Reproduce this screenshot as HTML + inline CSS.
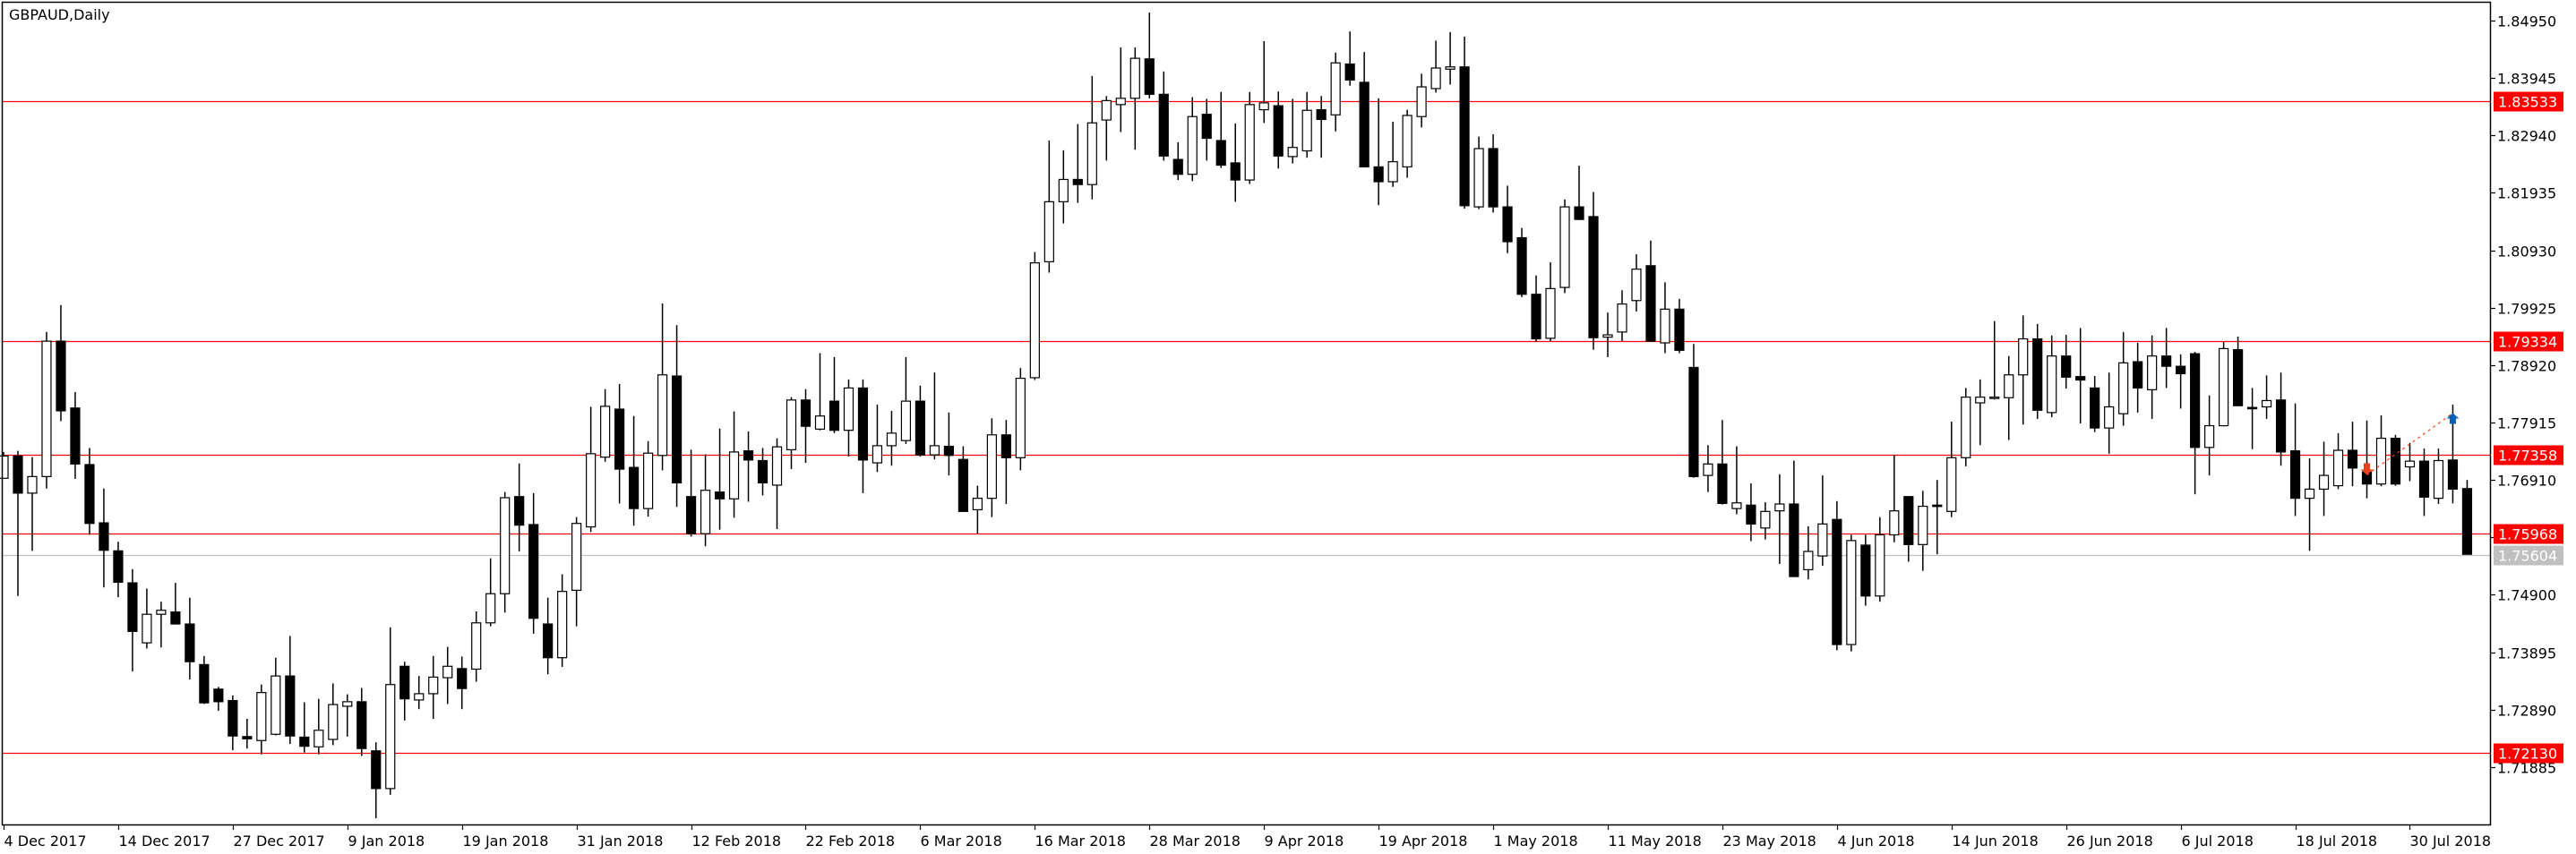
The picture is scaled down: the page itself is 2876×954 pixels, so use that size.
<!DOCTYPE html>
<html><head><meta charset="utf-8"><title>GBPAUD,Daily</title>
<style>
html,body{margin:0;padding:0;background:#fff;}
svg{display:block;font-family:"DejaVu Sans","Liberation Sans",sans-serif;}
</style></head>
<body>
<svg id="chart" width="2876" height="954" viewBox="0 0 2876 954">
  <rect x="0" y="0" width="2876" height="954" fill="#fff"/>
  <g id="hlines"></g>
  <g id="candles"></g>
  <g id="signals"></g>
  <rect x="2.5" y="2.5" width="2778" height="919" fill="none" stroke="#000" stroke-width="1.5"/>
  <g id="yaxis"></g>
  <g id="xaxis"></g>
  <g id="levelLabels"></g>
  <text x="10" y="22" font-size="16" fill="#000">GBPAUD,Daily</text>
</svg>
<script>
const open = [17694,17733,17668,17697,17934,17817,17718,17616,17567,17511,17406,17456,17460,17439,17368,17325,17305,17242,17235,17246,17348,17241,17224,17237,17295,17303,17217,17151,17365,17306,17317,17345,17361,17360,17441,17492,17662,17613,17439,17380,17498,17609,17731,17815,17713,17641,17734,17873,17662,17597,17670,17658,17742,17725,17682,17744,17831,17780,17829,17778,17852,17721,17751,17760,17829,17735,17750,17727,17639,17659,17770,17730,17870,18073,18178,18217,18208,18321,18348,18359,18428,18366,18252,18226,18331,18285,18246,18216,18339,18346,18257,18267,18339,18330,18419,18387,18239,18213,18239,18327,18376,18410,18414,18169,18271,18169,18115,18016,17939,18028,18169,18152,17941,17950,18005,18066,17931,17990,17888,17699,17719,17641,17647,17607,17637,17649,17534,17558,17622,17403,17577,17488,17595,17662,17578,17647,17636,17730,17826,17835,17835,17875,17938,17809,17908,17872,17852,17782,17807,17898,17849,17908,17890,17912,17748,17786,17919,17818,17819,17831,17742,17659,17675,17681,17743,17705,17684,17764,17714,17724,17659,17726,17676];
const high = [17740,17742,17731,17950,17997,17845,17747,17676,17583,17535,17501,17478,17511,17485,17383,17329,17314,17273,17333,17380,17418,17302,17308,17335,17316,17327,17232,17433,17373,17348,17383,17399,17382,17461,17554,17670,17720,17668,17485,17526,17626,17819,17850,17859,17803,17759,18000,17962,17744,17736,17781,17811,17776,17747,17764,17836,17850,17913,17906,17867,17867,17823,17812,17906,17856,17879,17809,17750,17681,17799,17796,17887,18090,18285,18268,18314,18398,18363,18448,18448,18509,18406,18282,18361,18358,18370,18315,18370,18459,18371,18358,18370,18363,18439,18476,18440,18359,18318,18339,18402,18460,18475,18467,18292,18296,18206,18132,18049,18072,18182,18241,18195,17984,18023,18086,18110,18037,18008,17929,17752,17796,17750,17685,17652,17701,17725,17610,17699,17654,17595,17595,17626,17735,17662,17672,17691,17793,17852,17867,17969,17908,17979,17964,17944,17945,17957,17873,17879,17950,17931,17944,17957,17911,17915,17839,17933,17942,17852,17874,17879,17825,17729,17758,17773,17793,17795,17804,17770,17756,17746,17746,17823,17691];
const low = [17694,17488,17567,17676,17794,17693,17595,17503,17486,17356,17396,17398,17439,17342,17299,17287,17218,17221,17211,17244,17229,17214,17211,17227,17242,17208,17099,17140,17270,17290,17273,17299,17290,17338,17435,17459,17566,17422,17351,17364,17435,17600,17723,17650,17611,17627,17708,17644,17592,17575,17604,17625,17653,17664,17605,17710,17721,17778,17773,17732,17668,17705,17716,17754,17732,17727,17699,17636,17597,17626,17649,17708,17866,18054,18140,18176,18182,18250,18300,18269,18359,18250,18216,18214,18250,18237,18178,18209,18316,18236,18245,18255,18255,18301,18381,18239,18172,18204,18220,18308,18369,18383,18166,18165,18159,18088,18011,17933,17934,18018,18146,17919,17906,17934,17986,17933,17913,17913,17695,17670,17648,17631,17584,17587,17544,17522,17517,17541,17393,17391,17471,17478,17582,17548,17532,17561,17626,17715,17752,17832,17761,17788,17798,17801,17851,17790,17775,17737,17786,17809,17798,17852,17816,17666,17699,17785,17821,17745,17798,17716,17628,17567,17628,17675,17680,17659,17680,17681,17689,17628,17649,17650,17561];
const close = [17733,17668,17697,17934,17812,17719,17615,17568,17512,17426,17456,17463,17439,17373,17301,17303,17243,17238,17319,17348,17243,17225,17253,17298,17303,17221,17151,17333,17308,17317,17346,17365,17326,17441,17492,17660,17612,17449,17380,17496,17615,17737,17820,17710,17641,17738,17875,17686,17597,17673,17658,17740,17726,17686,17749,17831,17785,17803,17778,17852,17726,17751,17773,17829,17735,17751,17734,17636,17659,17770,17730,17869,18071,18178,18217,18208,18316,18355,18359,18429,18366,18258,18226,18327,18289,18242,18216,18348,18351,18258,18273,18338,18322,18421,18391,18239,18213,18248,18329,18379,18412,18414,18171,18271,18169,18108,18016,17938,18026,18169,18147,17940,17945,17999,18060,17934,17990,17918,17697,17719,17650,17651,17614,17636,17649,17522,17566,17614,17403,17585,17488,17595,17637,17578,17645,17646,17730,17836,17836,17836,17875,17938,17813,17908,17871,17866,17782,17819,17896,17852,17908,17890,17877,17748,17786,17921,17821,17817,17830,17740,17659,17675,17699,17743,17712,17684,17764,17684,17724,17661,17725,17675,17561];
const PRICE_UNIT = 10000;
const dateLabels = ["4 Dec 2017","14 Dec 2017","27 Dec 2017","9 Jan 2018","19 Jan 2018","31 Jan 2018","12 Feb 2018","22 Feb 2018","6 Mar 2018","16 Mar 2018","28 Mar 2018","9 Apr 2018","19 Apr 2018","1 May 2018","11 May 2018","23 May 2018","4 Jun 2018","14 Jun 2018","26 Jun 2018","6 Jul 2018","18 Jul 2018","30 Jul 2018"];
const dateLabelIndex = [0,8,16,24,32,40,48,56,64,72,80,88,96,104,112,120,128,136,144,152,160,168];
const priceTicks = ["1.84950","1.83945","1.82940","1.81935","1.80930","1.79925","1.78920","1.77915","1.76910","1.75905","1.74900","1.73895","1.72890","1.71885"];
const redLevels = ["1.83533","1.79334","1.77358","1.75968","1.72130"];
const bidLevel = "1.75604";
const sellSignalIndex = 165, sellSignalPrice = 1.7700;
const buySignalIndex = 171, buySignalPrice = 1.7808;

const NS = "http://www.w3.org/2000/svg";
const yTop = 23, pTop = 1.84950, pxPerUnit = 64.15 / 0.01005;
function y(p){ return yTop + (pTop - p) * pxPerUnit; }
function x(i){ return 4 + i * 15.991; }
function mk(tag, attrs, parent){ const e = document.createElementNS(NS, tag); for (const k in attrs) e.setAttribute(k, attrs[k]); parent.appendChild(e); return e; }

const gL = document.getElementById('hlines');
redLevels.forEach(v => {
  const ln = mk('line', {x1:3, x2:2780, y1:Math.round(y(+v))+0.5, y2:Math.round(y(+v))+0.5, stroke:'#ff0000', 'stroke-width':1.2}, gL);
  
  
});
const bl = mk('line', {x1:3, x2:2780, y1:Math.round(y(+bidLevel))+0.5, y2:Math.round(y(+bidLevel))+0.5, stroke:'#c0c0c0', 'stroke-width':1.2}, gL);



const gC = document.getElementById('candles');
for (let i = 0; i < open.length; i++) {
  const o = open[i]/PRICE_UNIT, h = high[i]/PRICE_UNIT, l = low[i]/PRICE_UNIT, c = close[i]/PRICE_UNIT;
  const cx = x(i);
  const g = mk('g', {}, gC);
  
  
  mk('rect', {x:cx-0.75, y:y(h), width:1.5, height:Math.max(1, y(l)-y(h)), fill:'#000'}, g);
  const top = y(Math.max(o,c)), bot = y(Math.min(o,c));
  const bull = c >= o;
  mk('rect', {x:cx-5, y:top, width:10, height:Math.max(1.5, bot-top), fill: bull ? '#fff' : '#000', stroke:'#000', 'stroke-width':1.2}, g);
}

const gS = document.getElementById('signals');
const sx = x(sellSignalIndex), sy = y(sellSignalPrice), bx = x(buySignalIndex), by = y(buySignalPrice);
const dl = mk('line', {x1:sx, y1:sy, x2:bx, y2:by, stroke:'#ff3b1a', 'stroke-width':1.2, 'stroke-dasharray':'3,4'}, gS);


const sa = mk('polygon', {points:`${sx-3.5},${sy-13} ${sx+3.5},${sy-13} ${sx+3.5},${sy-6} ${sx+7},${sy-6} ${sx},${sy} ${sx-7},${sy-6} ${sx-3.5},${sy-6}`, fill:'#e8401c'}, gS);


const ba = mk('polygon', {points:`${bx},${by} ${bx+7},${by+6} ${bx+3.5},${by+6} ${bx+3.5},${by+12} ${bx-3.5},${by+12} ${bx-3.5},${by+6} ${bx-7},${by+6}`, fill:'#0a5fb4'}, gS);



const gY = document.getElementById('yaxis');
priceTicks.forEach(t => {
  const yy = Math.round(y(+t)) + 0.5;
  const tk = mk('line', {x1:2780, x2:2786, y1:yy, y2:yy, stroke:'#000', 'stroke-width':1.2}, gY);
  
  
  const tx = mk('text', {x:2788, y:yy+6, 'font-size':16, fill:'#000'}, gY);
  tx.textContent = t;
  
  
});

const gX = document.getElementById('xaxis');
dateLabels.forEach((d, k) => {
  const xx = Math.round(x(dateLabelIndex[k])) + 0.5;
  const tk = mk('line', {x1:xx, x2:xx, y1:921, y2:927, stroke:'#000', 'stroke-width':1.2}, gX);
  
  
  const tx = mk('text', {x:xx, y:945, 'font-size':16, fill:'#000'}, gX);
  tx.textContent = d;
  
  
});

const gLL = document.getElementById('levelLabels');
function levelLabel(v, color, name){
  const yy = Math.round(y(+v)) + 0.5;
  const r = mk('rect', {x:2784, y:yy-11, width:78, height:22, fill:color}, gLL);
  
  
  const t = mk('text', {x:2789, y:yy+6, 'font-size':16, fill:'#fff'}, gLL);
  t.textContent = v;
  
  
}
redLevels.forEach(v => levelLabel(v, '#ff0000', 'level-label'));
levelLabel(bidLevel, '#c0c0c0', 'bid-label');
</script>
</body></html>
